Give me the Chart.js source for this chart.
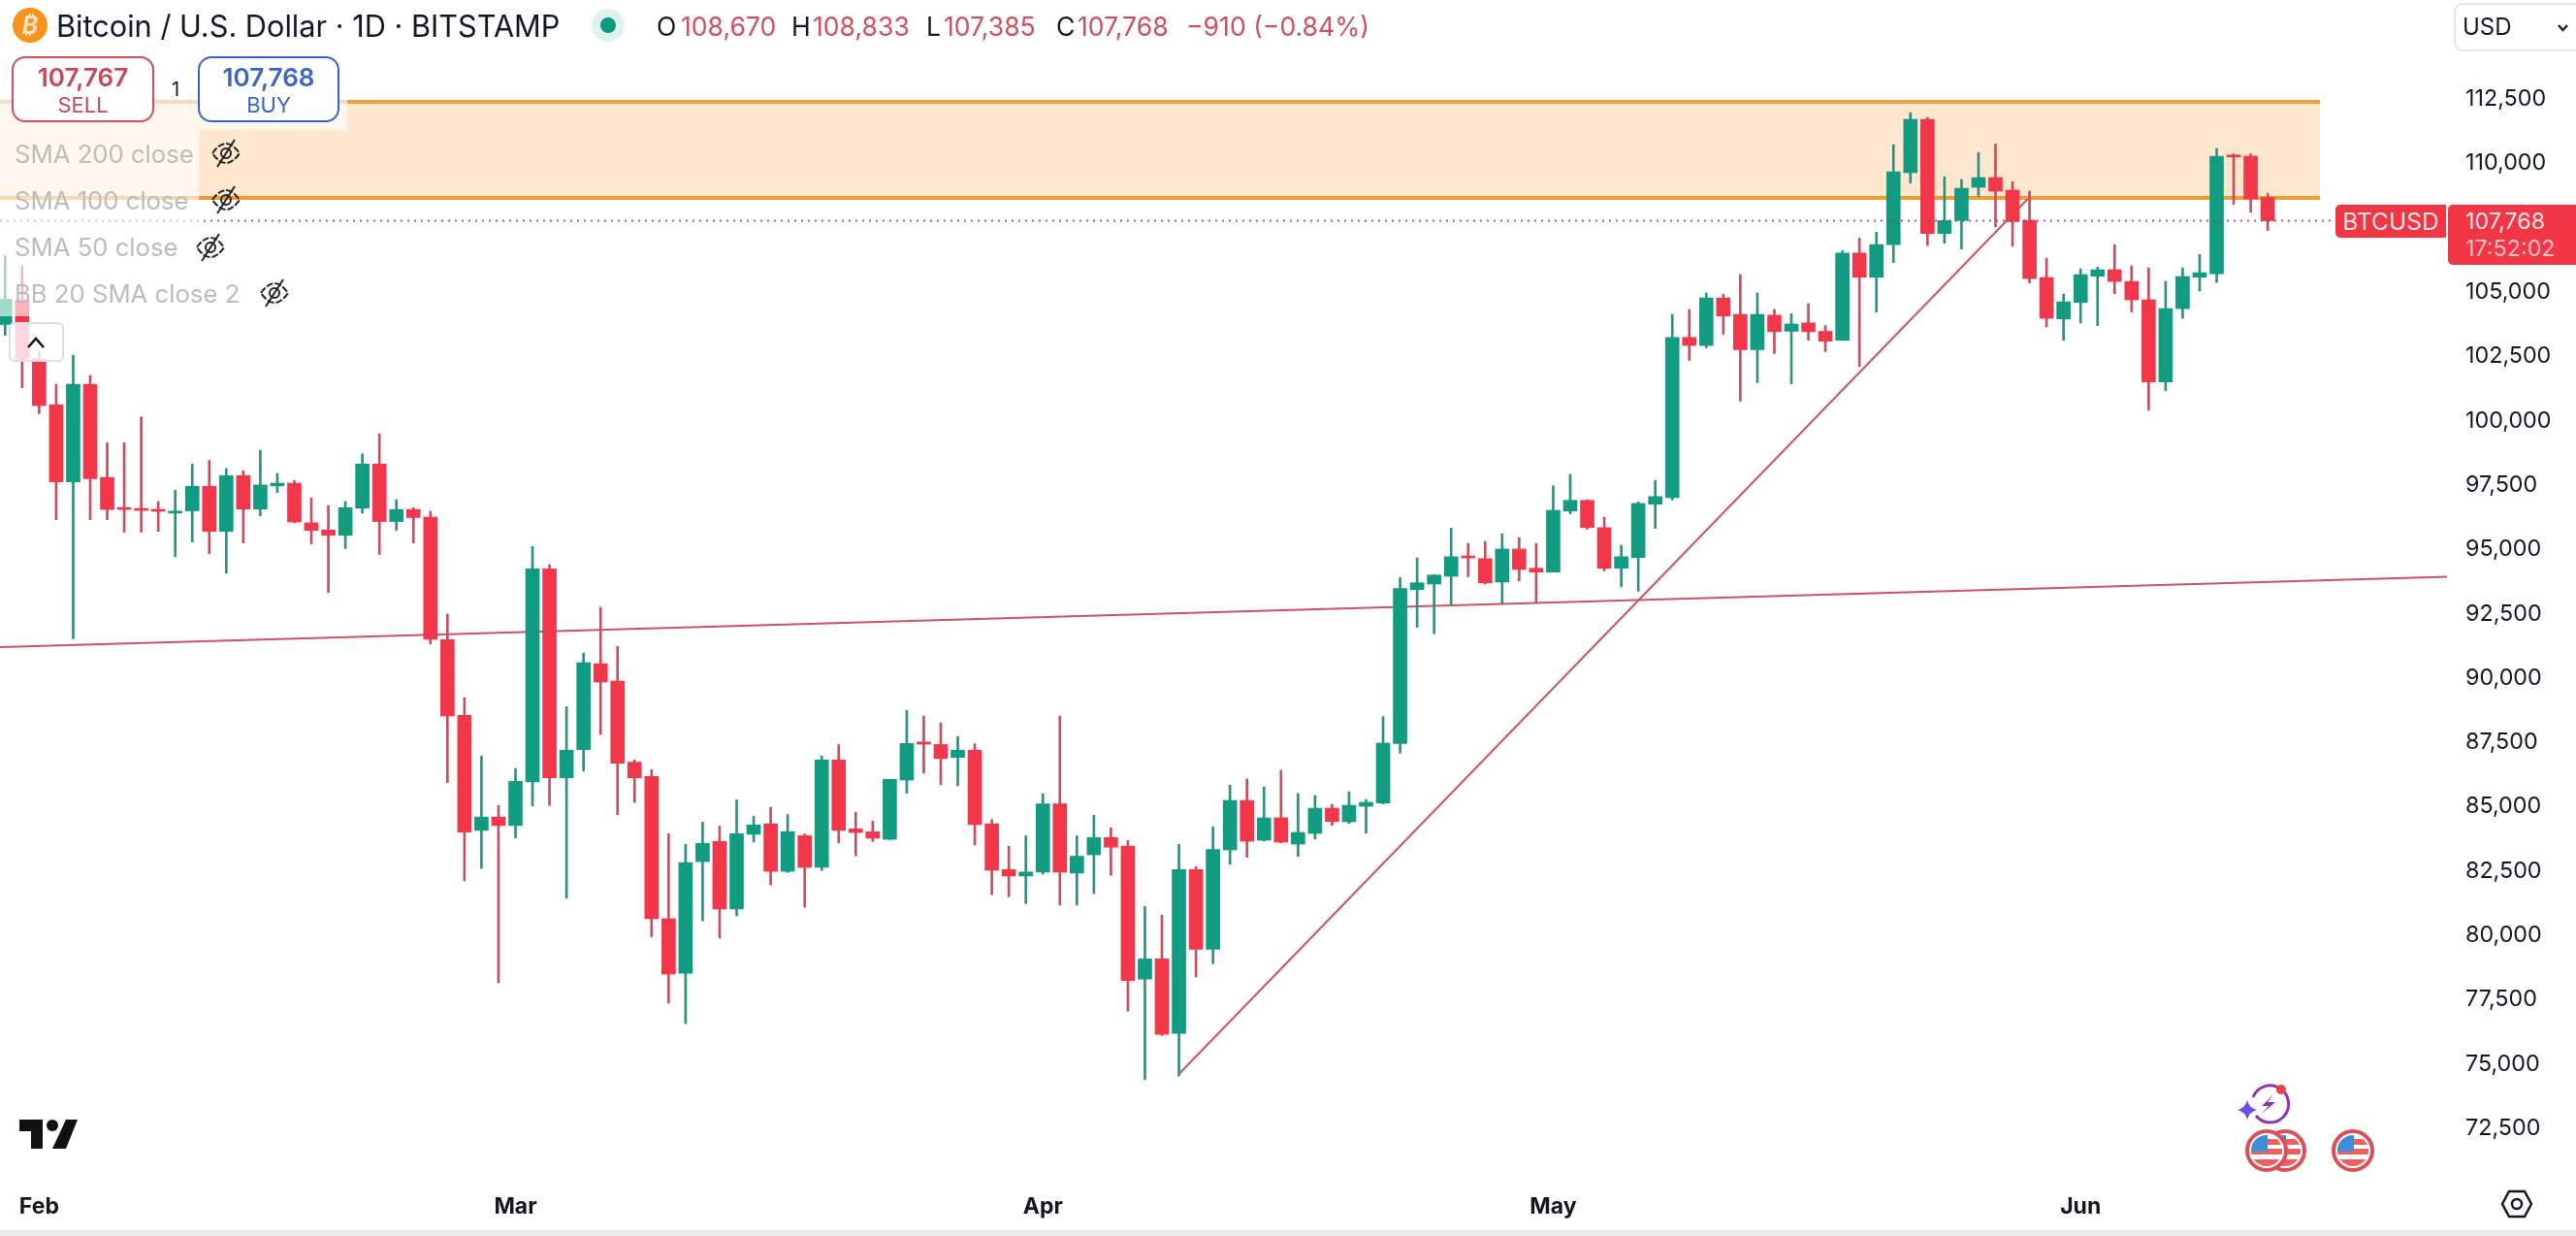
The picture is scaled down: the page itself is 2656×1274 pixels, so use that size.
<!DOCTYPE html>
<html><head><meta charset="utf-8">
<script src="https://cdn.jsdelivr.net/npm/chart.js@4"></script>
<style>
html,body{margin:0;padding:0;background:#fff;width:2656px;height:1274px;overflow:hidden;font-family:Inter,"Noto Sans",sans-serif;color:#131722}
#c{position:absolute;left:0;top:0;width:2656px;height:1274px}
.t{position:absolute;white-space:nowrap;line-height:1;transform:translateY(-50%)}
.r{color:#cf4f5c}
.box{position:absolute;box-sizing:border-box;background:#fff;border-radius:14px;border:2px solid;text-align:center}
.veil{position:absolute;background:rgba(255,255,255,.62)}
svg.ov{position:absolute;left:0;top:0;width:2656px;height:1274px;pointer-events:none}
</style></head><body>
<canvas id="c" width="2656" height="1274"></canvas>

<div class="veil" style="left:0;top:58px;width:358px;height:76px"></div>
<div class="veil" style="left:0;top:134px;width:205px;height:192px"></div>
<div class="veil" style="left:9px;top:332px;width:57px;height:41px;background:rgba(255,255,255,.8);border:2px solid #dedede;border-radius:6px;box-sizing:border-box"></div>

<div class="t" style="left:58px;top:27px;font-size:30.7px">Bitcoin / U.S. Dollar · 1D · BITSTAMP</div>
<div class="t" style="left:677px;top:27px;font-size:26.6px">O</div><div class="t r" style="left:702px;top:27px;font-size:26.6px">108,670</div>
<div class="t" style="left:816px;top:27px;font-size:26.6px">H</div><div class="t r" style="left:838px;top:27px;font-size:26.6px">108,833</div>
<div class="t" style="left:955px;top:27px;font-size:26.6px">L</div><div class="t r" style="left:973px;top:27px;font-size:26.6px">107,385</div>
<div class="t" style="left:1089px;top:27px;font-size:26.6px">C</div><div class="t r" style="left:1111px;top:27px;font-size:26.6px">107,768</div>
<div class="t r" style="left:1223px;top:27px;font-size:26.6px">−910 (−0.84%)</div>

<div class="box" style="left:12px;top:58px;width:147px;height:68px;border-color:#cf4f5c"></div>
<div class="t" style="left:12px;width:147px;text-align:center;top:80px;font-size:26px;font-weight:600;color:#c8475a">107,767</div>
<div class="t" style="left:12px;width:147px;text-align:center;top:108px;font-size:22px;color:#c8475a">SELL</div>
<div class="t" style="left:177px;top:92px;font-size:20px">1</div>
<div class="box" style="left:204px;top:58px;width:146px;height:68px;border-color:#3a64c8"></div>
<div class="t" style="left:204px;width:146px;text-align:center;top:80px;font-size:26px;font-weight:600;color:#3a64c8">107,768</div>
<div class="t" style="left:204px;width:146px;text-align:center;top:108px;font-size:22px;color:#3a64c8">BUY</div>

<div class="t" style="left:15px;top:159px;font-size:25.7px;color:#bcbcbc">SMA 200 close</div>
<div class="t" style="left:15px;top:207px;font-size:25.7px;color:#bcbcbc">SMA 100 close</div>
<div class="t" style="left:15px;top:255px;font-size:25.7px;color:#bcbcbc">SMA 50 close</div>
<div class="t" style="left:15px;top:303px;font-size:25.7px;color:#bcbcbc">BB 20 SMA close 2</div>

<div style="position:absolute;left:2530px;top:3px;width:140px;height:50px;box-sizing:border-box;border:2px solid #e6e6e6;border-radius:9px"></div>
<div class="t" style="left:2539px;top:28px;font-size:24px">USD</div>

<div style="position:absolute;left:2408px;top:211px;width:114px;height:34px;background:#f23645;border-radius:5px 0 0 5px"></div>
<div class="t" style="left:2408px;width:114px;text-align:center;top:228px;font-size:24.5px;color:#ffe9ea">BTCUSD</div>
<div style="position:absolute;left:2524px;top:211px;width:132px;height:62px;background:#f23645;border-radius:5px 0 0 5px"></div>
<div class="t" style="left:2542px;top:228px;font-size:23.3px;color:#ffe9ea">107,768</div>
<div class="t" style="left:2542px;top:256px;font-size:23.3px;color:#fcc2c6">17:52:02</div>

<div style="position:absolute;left:0;top:1268px;width:2656px;height:6px;background:#e9e9ea"></div>

<svg class="ov" viewBox="0 0 2656 1274">
  <defs>
    <symbol id="eye" viewBox="-16 -16 32 32">
      <path d="M-14 0 Q0 -20 14 0 Q0 20 -14 0Z" fill="none" stroke="#222" stroke-width="2" stroke-dasharray="7 2"/>
      <circle r="5" fill="none" stroke="#222" stroke-width="2"/>
      <path d="M-9 14 L9 -14" stroke="#222" stroke-width="2"/>
    </symbol>
    <g id="flag">
      <circle r="20" fill="#fff" stroke="#dd4f55" stroke-width="4"/>
      <clipPath id="fc"><circle r="16"/></clipPath>
      <g clip-path="url(#fc)">
        <rect x="-16" y="-16" width="32" height="32" fill="#fff"/>
        <rect x="-16" y="-12" width="32" height="6" fill="#e8625f"/>
        <rect x="-16" y="-2" width="32" height="6" fill="#e8625f"/>
        <rect x="-16" y="9" width="32" height="7" fill="#e8625f"/>
        <rect x="-16" y="-16" width="17" height="17" fill="#3f8fd8"/>
      </g>
    </g>
  </defs>
  <circle cx="31" cy="26" r="18" fill="#f7931a"/>
  <text x="31" y="35" font-family="Inter" font-size="25" font-weight="700" font-style="italic" fill="#fde4bf" text-anchor="middle">₿</text>
  <circle cx="627" cy="26" r="17" fill="#e0f2ef"/><circle cx="627" cy="26" r="8" fill="#089981"/>
  <use href="#eye" x="217" y="142" width="32" height="32"/>
  <use href="#eye" x="217" y="190" width="32" height="32"/>
  <use href="#eye" x="201" y="239" width="32" height="32"/>
  <use href="#eye" x="267" y="286" width="32" height="32"/>
  <path d="M29 358 L37 349 L45 358" fill="none" stroke="#111" stroke-width="2.5"/>
  <path d="M2638 26 L2642.5 31 L2647 26" fill="none" stroke="#222" stroke-width="2.5"/>
  <path d="M20 1154 H44 V1184 H32 V1166 H20Z" fill="#111"/>
  <circle cx="54" cy="1160" r="6" fill="#111"/>
  <path d="M68 1154 H80 L68 1184 H54Z" fill="#111"/>
  <path d="M2323 1131 A19 19 0 1 1 2326 1150" fill="none" stroke="#8e35ab" stroke-width="3"/>
  <path d="M2344 1128 L2332 1140 H2339 L2332 1148 L2346 1136 H2338Z" fill="#8e35ab"/>
  <circle cx="2352" cy="1123" r="5" fill="#ee3d48"/>
  <path d="M2317 1134 Q2319 1142 2327 1144 Q2319 1146 2317 1154 Q2315 1146 2307 1144 Q2315 1142 2317 1134Z" fill="#6a4be8"/>
  <use href="#flag" transform="translate(2356 1186)"/>
  <use href="#flag" transform="translate(2337 1186)"/>
  <use href="#flag" transform="translate(2426 1186)"/>
  <path d="M2587 1228 H2603 L2610 1241 L2603 1254 H2587 L2580 1241Z" fill="none" stroke="#131722" stroke-width="2.5"/>
  <circle cx="2595" cy="1241" r="5" fill="none" stroke="#131722" stroke-width="2.5"/>
</svg>

<script>
const monthLabels = ['Feb','Mar','Apr','May','Jun'];
const monthStarts = [2,30,61,91,122];
const priceTicks = [72500,75000,77500,80000,82500,85000,87500,90000,92500,95000,97500,100000,102500,105000,107500,110000,112500];

const open = [103737,104680,102390,100617,97621,101414,97794,96616,96582,96547,96408,96495,97448,95698,97863,96564,97465,97569,96027,95750,95543,96599,98314,96079,96547,96253,91490,88545,84076,84596,84267,85964,94243,86120,87211,90555,89879,86727,86173,80645,78523,82864,83646,81022,83925,84330,82487,83869,82641,86815,84135,84023,83730,86033,87513,87415,86913,87192,84330,82557,82306,82460,85112,82417,83130,83800,83465,78299,79081,76191,82557,79458,83319,85238,83696,84563,83545,83960,84940,84412,85016,85141,87455,93430,93653,93951,94741,94636,93728,95009,94264,94115,96484,96901,95843,94264,94681,96752,97006,103234,102921,104769,104128,102757,104098,103472,103800,103472,103130,106512,105573,106843,109634,111708,107270,107773,109068,109445,108955,107786,105561,103952,104593,105611,105863,105410,104694,101501,104354,105573,105712,110312,110275,108670];
const high = [106415,106000,102706,101414,102540,101760,99145,99145,100150,96859,97292,98314,98452,98140,98054,98851,97950,97673,97000,96703,96859,98712,99491,96928,96616,96478,92477,89238,86969,85046,86484,95109,94400,88892,90970,92737,91230,86813,86438,83953,83534,84400,84246,85266,84623,84980,84693,83939,86969,87415,84777,84442,86061,88741,88518,88253,87723,87443,84498,83465,83869,85503,88518,83869,84665,84177,83688,81119,80784,83534,82669,84219,85838,86072,85770,86411,85506,85431,85091,85581,85280,88498,93906,94666,94010,95829,95233,95307,95605,95456,95233,97467,97914,96931,96246,95158,96842,97676,104128,104322,104962,104917,105677,104962,104322,104158,104545,103696,106601,107093,107321,110727,111972,111783,109483,109370,110425,110752,109282,108917,106315,104920,105900,105963,106843,106013,105938,105410,105938,106453,110576,110375,110375,108833];
const low = [103310,101275,100271,96149,91524,96149,96149,95664,95664,95698,94711,95283,94832,94070,95248,96305,97205,96027,95213,93326,95028,96408,94798,95733,95248,91317,85930,82119,82605,78153,83782,85029,85046,81444,86380,87800,84683,85168,79947,77364,76568,80561,79891,80756,83618,81957,82445,81091,82516,83590,83088,83646,83716,85517,86299,85852,85810,83507,81580,81496,81231,82376,81175,81175,81622,82334,77057,74391,76108,74531,78383,78900,82766,83030,83658,83595,83067,83746,84274,84350,83972,85104,87082,91969,91716,92849,93936,93653,92893,93772,92923,94115,96380,95784,94160,93549,93370,95814,96916,102340,102832,103353,100760,101476,102608,101431,103130,102682,103115,102104,104216,106139,109231,106805,106893,106667,108716,107534,106780,105347,103638,103122,103788,103688,104932,104216,100407,101161,103977,105033,105372,108402,108100,107385];
const close = [104718,102390,100583,97621,101414,97742,96547,96547,96512,96478,96478,97448,95698,97863,96564,97500,97569,96062,95733,95543,96616,98314,96079,96547,96235,91507,88528,84007,84596,84267,85982,94243,86120,87194,90589,89845,86692,86120,80645,78495,82823,83576,81022,83953,84288,82487,84023,82641,86815,84079,83995,83772,86061,87457,87429,86871,87192,84302,82529,82306,82460,85112,82460,83074,83800,83423,78243,79081,76150,82557,79458,83339,85242,83658,84563,83620,83998,84940,84425,85054,85167,87470,93474,93698,94002,94711,94666,93698,95009,94219,94115,96514,96901,95843,94264,94711,96782,97050,103234,102921,104769,104068,102757,104128,103457,103755,103457,103085,106512,105573,106843,109671,111708,107270,107773,109030,109445,108917,107735,105523,103977,104618,105674,105863,105410,104694,101501,104354,105599,105749,110275,110249,108615,107768];

const supportTrend = [[-0.302,91200],[143.54,93930]];
const riseTrend = [[69,74610],[118.9,108617]];
const zoneTop = 112387, zoneBottom = 108654;
const zoneEnd = 136.07, lineEnd = 136.8, lastPrice = 107768;

const xMin = -0.302, xMax = 143.54, yMin = 71105, yMax = 116346;
const UP = '#119b80', DOWN = '#f2374b', UPW = '#2f9080', DOWNW = '#c4505f';
const isUp = i => close[i] >= open[i];
const pts = a => a.map(p => ({x:p[0], y:p[1]}));
const flat = (v,end) => [{x:xMin,y:v},{x:end,y:v}];
const noPad = s => { s.paddingLeft = s.paddingRight = s.paddingTop = s.paddingBottom = 0; };

new Chart(document.getElementById('c'), {
  type:'bar',
  data:{datasets:[
    {type:'line',data:flat(lastPrice,lineEnd),borderColor:'rgba(150,70,85,.85)',borderWidth:2,borderDash:[2,5],pointRadius:0,order:0},
    {data:open.map((o,i)=>({x:i,y:[o,close[i]]})),grouped:false,barThickness:14,minBarLength:2,
      backgroundColor:c=>isUp(c.dataIndex)?UP:DOWN,borderWidth:0,order:1},
    {data:high.map((h,i)=>({x:i,y:[low[i],h]})),grouped:false,barThickness:2,
      backgroundColor:c=>isUp(c.dataIndex)?UPW:DOWNW,borderWidth:0,order:2},
    {type:'line',data:pts(supportTrend),borderColor:'#cb5460',borderWidth:2,pointRadius:0,order:3},
    {type:'line',data:pts(riseTrend),borderColor:'#cb5460',borderWidth:2,pointRadius:0,order:3},
    {type:'line',data:flat(zoneTop,zoneEnd),borderColor:'#eaa145',borderWidth:4,pointRadius:0,order:4},
    {type:'line',data:flat(zoneBottom,zoneEnd),borderColor:'#f09c35',borderWidth:4,pointRadius:0,order:4},
    {type:'line',data:flat(zoneTop,zoneEnd),borderWidth:0,pointRadius:0,order:6,fill:'+1',backgroundColor:'#ffe8cf'},
    {type:'line',data:flat(zoneBottom,zoneEnd),borderWidth:0,pointRadius:0,order:7}
  ]},
  options:{
    responsive:false,animation:false,devicePixelRatio:1,
    layout:{padding:0},
    plugins:{legend:{display:false},tooltip:{enabled:false}},
    scales:{
      x:{type:'linear',min:xMin,max:xMax,offset:false,border:{display:false},grid:{display:false,drawTicks:false},
        afterBuildTicks:s=>{s.ticks=monthStarts.map(v=>({value:v}));},
        afterFit:s=>{s.height=74;noPad(s);},
        ticks:{autoSkip:false,maxRotation:0,padding:30,color:'#131722',font:{family:'Inter',size:23,weight:'700'},
          callback:v=>monthLabels[monthStarts.indexOf(v)]}},
      y:{type:'linear',position:'right',min:yMin,max:yMax,border:{display:false},grid:{display:false,drawTicks:false},
        afterBuildTicks:s=>{s.ticks=priceTicks.map(v=>({value:v}));},
        afterFit:s=>{s.width=133;noPad(s);},
        ticks:{autoSkip:false,padding:19,color:'#131722',font:{family:'Inter',size:23.3},
          callback:v=>v.toLocaleString('en-US')}}
    }
  }
});
</script>
</body></html>
